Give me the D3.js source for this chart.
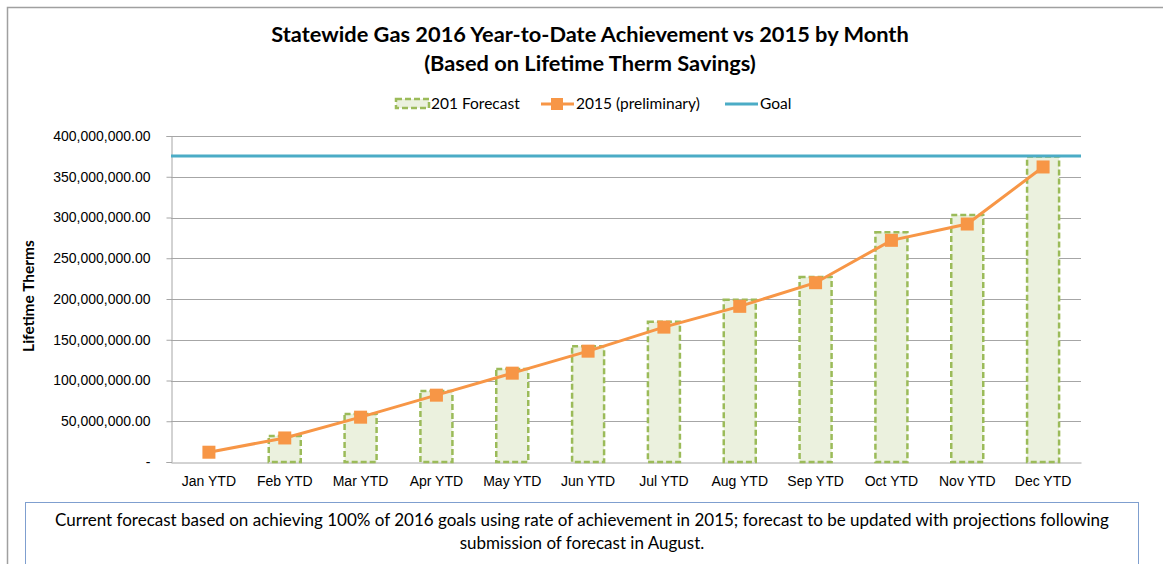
<!DOCTYPE html>
<html>
<head>
<meta charset="utf-8">
<script src="https://cdn.jsdelivr.net/npm/d3@7"></script>
<style>
  html, body { margin: 0; padding: 0; background: #fff; }
  svg { display: block; font-family: Lato, "Open Sans", sans-serif; }
</style>
</head>
<body>
<svg id="chart" width="1163" height="564"></svg>
<script>
// ─── Data ─────────────────────────────────────────────────────────────────────

const MONTHS   = ["Jan YTD", "Feb YTD", "Mar YTD", "Apr YTD", "May YTD", "Jun YTD",
                  "Jul YTD", "Aug YTD", "Sep YTD", "Oct YTD", "Nov YTD", "Dec YTD"];
const FORECAST = [null, 32e6, 59e6, 87e6, 114e6, 142e6, 172e6, 199e6, 227e6, 282e6, 303e6, 375e6];
const PRELIM   = [12e6, 29.5e6, 55e6, 82e6, 109e6, 136e6, 165.5e6, 191e6, 220e6, 272e6, 292e6, 362e6];
const GOAL     = 375.5e6;
const Y_TICKS  = [0, 50e6, 100e6, 150e6, 200e6, 250e6, 300e6, 350e6, 400e6];

const TITLE    = ["Statewide Gas 2016 Year-to-Date Achievement vs 2015 by Month",
                  "(Based on Lifetime Therm Savings)"];
const NOTE     = ["Current forecast based on achieving 100% of 2016 goals using rate of achievement in 2015; forecast to be updated with projections following",
                  "submission of forecast in August."];

// ─── Layout ───────────────────────────────────────────────────────────────────

const GREEN = "#9bbb59", GREEN_FILL = "#ebf1de", ORANGE = "#f79646", BLUE = "#4bacc6";
const M = { left: 171, right: 1081, top: 136, bottom: 462 };

const svg = d3.select("#chart");

// outer chart frame (runs off the right/bottom edge)
svg.append("path")
  .attr("d", "M7.5,570 L7.5,7.5 L1170,7.5")
  .attr("fill", "none").attr("stroke", "#a0a0a0").attr("stroke-width", 1.5);

const x = d3.scaleBand().domain(MONTHS).range([M.left, M.right]);
const y = d3.scaleLinear().domain([0, 400e6]).range([M.bottom, M.top]);

// ─── Grid + axes ──────────────────────────────────────────────────────────────

svg.append("g").selectAll("line").data(Y_TICKS.slice(1)).join("line")
  .attr("x1", M.left).attr("x2", M.right)
  .attr("y1", d => Math.round(y(d)) + 0.5).attr("y2", d => Math.round(y(d)) + 0.5)
  .attr("stroke", "#a6a6a6").attr("stroke-width", 1);

const yAxis = svg.append("g")
  .attr("transform", `translate(${M.left + 0.5},0)`)
  .call(d3.axisLeft(y).tickValues(Y_TICKS).tickSize(5).tickPadding(16)
    .tickFormat(d => d === 0 ? "-" : d3.format(",.2f")(d)));
yAxis.select(".domain").attr("stroke", "#a6a6a6");
yAxis.selectAll(".tick line").attr("stroke", "#a6a6a6");
yAxis.selectAll(".tick text").attr("font-size", 14).attr("fill", "#000");

const xAxis = svg.append("g")
  .attr("transform", `translate(0,${M.bottom + 0.5})`)
  .call(d3.axisBottom(x).tickSize(0).tickPadding(14));
xAxis.select(".domain").attr("stroke", "#a6a6a6");
xAxis.selectAll(".tick text").attr("font-size", 14).attr("fill", "#000");

svg.append("text")
  .attr("transform", "translate(34,296) rotate(-90)")
  .attr("text-anchor", "middle").attr("font-size", 15.5).attr("font-weight", "bold")
  .text("Lifetime Therms");

// ─── Forecast bars ────────────────────────────────────────────────────────────

const barW = 32;
svg.append("g").selectAll("rect")
  .data(MONTHS.map((m, i) => ({ m, v: FORECAST[i] })).filter(d => d.v != null))
  .join("rect")
  .attr("x", d => x(d.m) + x.bandwidth() / 2 - barW / 2)
  .attr("y", d => y(d.v))
  .attr("width", barW)
  .attr("height", d => y(0) - y(d.v))
  .attr("fill", GREEN_FILL).attr("stroke", GREEN)
  .attr("stroke-width", 2.5).attr("stroke-dasharray", "6,3");

// ─── Goal line ────────────────────────────────────────────────────────────────

svg.append("line")
  .attr("x1", M.left).attr("x2", M.right)
  .attr("y1", y(GOAL)).attr("y2", y(GOAL))
  .attr("stroke", BLUE).attr("stroke-width", 3);

// ─── 2015 line ────────────────────────────────────────────────────────────────

const pts = MONTHS.map((m, i) => [x(m) + x.bandwidth() / 2, y(PRELIM[i])]);
svg.append("path")
  .attr("d", d3.line()(pts))
  .attr("fill", "none").attr("stroke", ORANGE).attr("stroke-width", 3);
svg.append("g").selectAll("rect").data(pts).join("rect")
  .attr("x", d => d[0] - 6.5).attr("y", d => d[1] - 6.5)
  .attr("width", 13).attr("height", 13).attr("fill", ORANGE);

// ─── Title ────────────────────────────────────────────────────────────────────

svg.append("g").selectAll("text").data(TITLE).join("text")
  .attr("x", 590).attr("y", (d, i) => 42 + i * 29)
  .attr("text-anchor", "middle").attr("font-size", 21.8).attr("font-weight", "bold")
  .text(d => d);

// ─── Legend ───────────────────────────────────────────────────────────────────

const lg = svg.append("g").attr("font-size", 15.5);
lg.append("rect").attr("x", 396).attr("y", 99).attr("width", 33).attr("height", 9)
  .attr("fill", GREEN_FILL).attr("stroke", GREEN).attr("stroke-width", 2.5)
  .attr("stroke-dasharray", "6,3");
lg.append("text").attr("x", 431).attr("y", 109).text("201 Forecast");
lg.append("line").attr("x1", 541).attr("x2", 574).attr("y1", 104).attr("y2", 104)
  .attr("stroke", ORANGE).attr("stroke-width", 3);
lg.append("rect").attr("x", 551).attr("y", 98).attr("width", 12).attr("height", 12).attr("fill", ORANGE);
lg.append("text").attr("x", 576).attr("y", 109).text("2015 (preliminary)");
lg.append("line").attr("x1", 725).attr("x2", 758).attr("y1", 104).attr("y2", 104)
  .attr("stroke", BLUE).attr("stroke-width", 3);
lg.append("text").attr("x", 760).attr("y", 109).text("Goal");

// ─── Note box ─────────────────────────────────────────────────────────────────

svg.append("rect").attr("x", 25.5).attr("y", 502.5).attr("width", 1113).attr("height", 80)
  .attr("fill", "#fff").attr("stroke", "#7f9fcf").attr("stroke-width", 1);
svg.append("g").selectAll("text").data(NOTE).join("text")
  .attr("x", 582).attr("y", (d, i) => 526 + i * 23)
  .attr("text-anchor", "middle").attr("font-size", 17)
  .text(d => d);
</script>
</body>
</html>
